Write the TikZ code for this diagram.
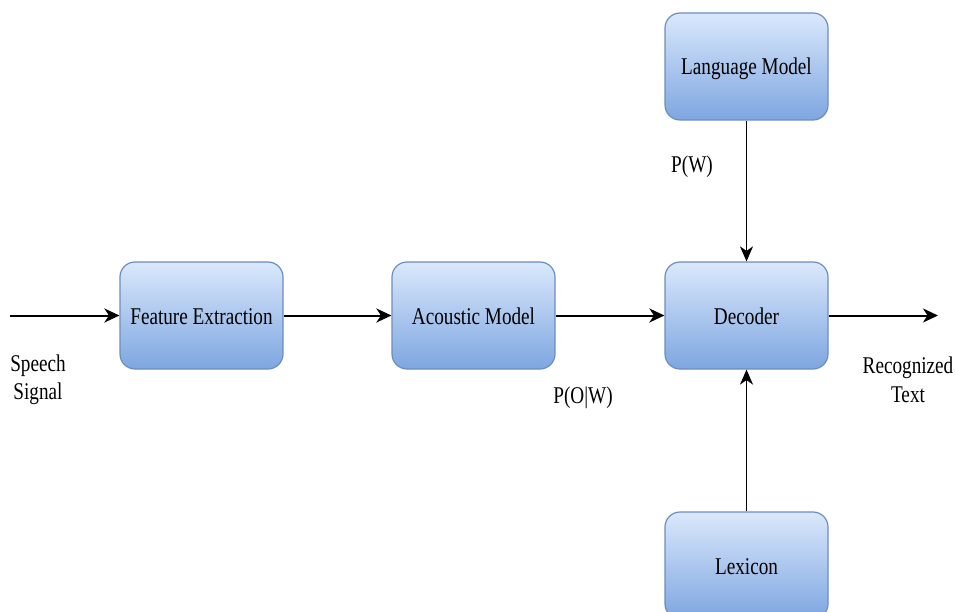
\documentclass[tikz,border=0pt]{standalone}
\usepackage{fontspec}
\setmainfont{Liberation Serif}[FakeStretch=0.8]
\usetikzlibrary{arrows.meta}
\definecolor{boxtop}{HTML}{DAE8FC}
\definecolor{boxbot}{HTML}{7EA6E0}
\definecolor{boxline}{HTML}{6C8EBF}
\begin{document}
\begin{tikzpicture}[x=1pt,y=-1pt,
  block/.style={rectangle, rounded corners=15pt, draw=boxline, line width=1.2pt,
    top color=boxtop, bottom color=boxbot, minimum width=163pt, minimum height=107pt,
    inner sep=0pt, text height=17pt, text depth=0pt, font=\fontsize{24}{28.5}\selectfont},
  lbl/.style={align=center, inner sep=0pt, font=\fontsize{24}{28.5}\selectfont},
  flow/.style={line width=2pt, -{Stealth[length=15pt,width=14pt,inset=4.5pt]}},
  feed/.style={line width=1.6pt, -{Stealth[length=15pt,width=13pt,inset=4.5pt]}}]
\useasboundingbox (0,0) rectangle (955,612);
\clip (0,0) rectangle (955,612);

% processing blocks
\node[block] (fe)  at (201.5,315.5) {Feature Extraction};
\node[block] (am)  at (473.5,315.5) {Acoustic Model};
\node[block] (dec) at (746.5,315.5) {Decoder};
\node[block] (lm)  at (746.5,66.5)  {Language Model};
\node[block] (lex) at (746.5,565.5) {Lexicon};

% free ends of the input and output lines
\coordinate (in)  at (10,315.5);
\coordinate (out) at (938,315.5);

% signal path
\draw[flow] (in) -- (fe.west);
\draw[flow] (fe.east) -- (am.west);
\draw[flow] (am.east) -- (dec.west);
\draw[flow] (dec.east) -- (out);
\draw[feed] (lm.south) -- (dec.north);
\draw[feed] (lex.north) -- (dec.south);

% labels
\node[lbl] (sig)  at (38,380)  {Speech\\Signal};
\node[lbl] (pow)  at (583,398) {P(O|W)};
\node[lbl] (pw)   at (692,167) {P(W)};
\node[lbl] (txt)  at (908,380) {Recognized\\Text};
\end{tikzpicture}
\end{document}
